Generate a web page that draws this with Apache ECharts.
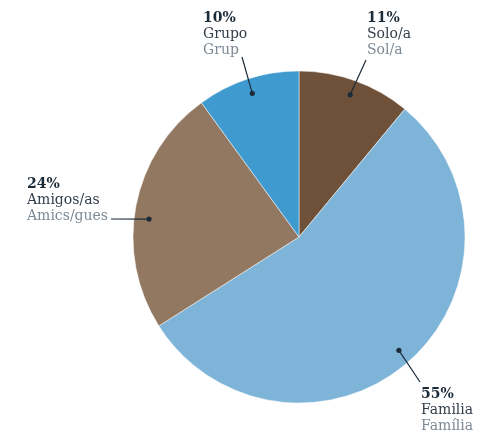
<!DOCTYPE html>
<html><head><meta charset="utf-8">
<script src="https://cdn.jsdelivr.net/npm/echarts@6/dist/echarts.min.js"></script>
<style>html,body{margin:0;padding:0;background:#fff}#c{width:480px;height:432px}</style>
</head><body><div id="c"></div>
<script>
const categories = ['Solo/a', 'Familia', 'Amigos/as', 'Grupo'];
const categoriesCa = ['Sol/a', 'Família', 'Amics/gues', 'Grup'];
const values = [11, 55, 24, 10];

const colors = ['#6f513a', '#7db4d8', '#937861', '#3f9acf'];
// label placement (style): text top-left, leader-line end point, dot angle nudge (deg)
const labelPos = [
  {x: 367, y: 10, end: [366, 60], shift: 0},
  {x: 421, y: 386, end: [420, 382], shift: 0},
  {x: 27, y: 176, end: [111, 219], shift: -4},
  {x: 203, y: 10, end: [242, 57], shift: 0}
];
const FONT = '"DejaVu Serif", Georgia, serif';
const dark = '#1c2b38';

const chart = echarts.init(document.getElementById('c'), null, {renderer: 'canvas'});
chart.setOption({
  animation: false,
  series: [{
    type: 'pie', center: [299, 237], radius: 166, startAngle: 90, clockwise: true,
    silent: true, label: {show: false}, labelLine: {show: false},
    itemStyle: {borderColor: '#ffffff', borderWidth: 0.5},
    data: categories.map((c, i) => ({name: c, value: values[i], itemStyle: {color: colors[i]}}))
  }]
});

const sd = chart.getModel().getSeriesByIndex(0).getData();
const graphics = [];
const total = values.reduce((a, b) => a + b, 0);
categories.forEach((c, i) => {
  const l = sd.getItemLayout(i);
  const p = labelPos[i];
  const mid = (l.startAngle + l.endAngle) / 2 + p.shift * Math.PI / 180;
  const rr = l.r * 0.91;
  const px = l.cx + rr * Math.cos(mid), py = l.cy + rr * Math.sin(mid);
  graphics.push({type: 'polyline', silent: true, z: 100, shape: {points: [[px, py], p.end]},
    style: {stroke: dark, lineWidth: 1.2, fill: null}});
  graphics.push({type: 'circle', silent: true, z: 101, shape: {cx: px, cy: py, r: 2.6}, style: {fill: dark}});
  const pct = Math.round(values[i] / total * 100) + '%';
  graphics.push({type: 'text', silent: true, z: 100, x: p.x, y: p.y,
    style: {
      text: '{a|' + pct + '}\n{b|' + c + '}\n{c|' + categoriesCa[i] + '}',
      fontFamily: FONT, fontSize: 14, verticalAlign: 'top', align: 'left',
      rich: {
        a: {fontFamily: FONT, fontSize: 14, fontWeight: 'bold', fill: dark, lineHeight: 16},
        b: {fontFamily: FONT, fontSize: 14, fill: '#333e4a', lineHeight: 16},
        c: {fontFamily: FONT, fontSize: 14, fill: '#7d8a96', lineHeight: 16}
      }
    }});
});
chart.setOption({graphic: graphics});
</script></body></html>
